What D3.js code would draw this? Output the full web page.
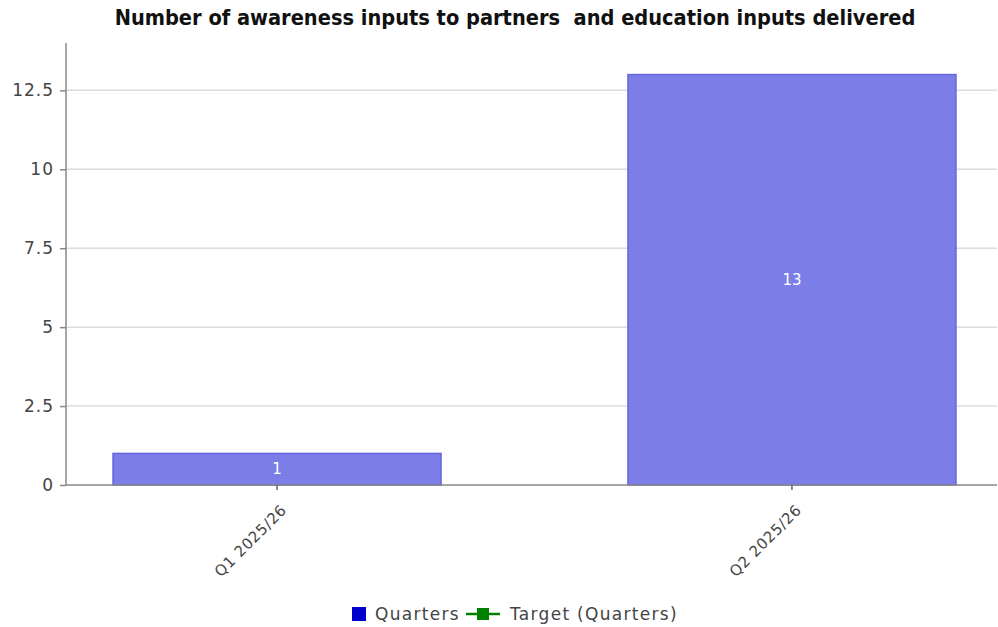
<!DOCTYPE html>
<html>
<head>
<meta charset="utf-8">
<script src="https://cdn.jsdelivr.net/npm/d3@7"></script>
<style>
  html, body { margin: 0; padding: 0; background: #fff; }
  svg { display: block; }
</style>
</head>
<body>
<svg id="chart" width="998" height="627"></svg>
<script>
const titleText = "Number of awareness inputs to partners  and education inputs delivered";
const categories = ["Q1 2025/26", "Q2 2025/26"];
const quarterValues = [1, 13];
const targetValues = [null, null];
const yTicks = [0, 2.5, 5, 7.5, 10, 12.5];
const seriesNames = ["Quarters", "Target (Quarters)"];

const svg = d3.select("#chart");
const W = 998, H = 627;
const m = { left: 66, right: 1, top: 43, bottom: 142 };
const plotR = W - m.right;
const plotB = H - m.bottom;

const x = d3.scaleBand()
  .domain(categories)
  .range([m.left, plotR])
  .paddingInner(0.363)
  .paddingOuter(0.0855)
  .align(0.534);

const y = d3.scaleLinear().domain([0, 14]).range([plotB, m.top]);

// grid lines
svg.append("g")
  .selectAll("line")
  .data(yTicks.filter(d => d > 0))
  .join("line")
  .attr("x1", m.left).attr("x2", plotR)
  .attr("y1", d => y(d)).attr("y2", d => y(d))
  .attr("stroke", "#dcdcdc").attr("stroke-width", 1.5);

// bars
svg.append("g")
  .selectAll("rect")
  .data(categories.map((c, i) => ({ c, v: quarterValues[i] })))
  .join("rect")
  .attr("x", d => x(d.c))
  .attr("y", d => y(d.v))
  .attr("width", x.bandwidth())
  .attr("height", d => y(0) - y(d.v))
  .attr("fill", "#7b7ee6")
  .attr("stroke", "#6466e0")
  .attr("stroke-width", 1.5);

// value labels
svg.append("g")
  .selectAll("text")
  .data(categories.map((c, i) => ({ c, v: quarterValues[i] })))
  .join("text")
  .attr("x", d => x(d.c) + x.bandwidth() / 2)
  .attr("y", d => (y(d.v) + y(0)) / 2)
  .attr("dy", "0.35em")
  .attr("text-anchor", "middle")
  .attr("fill", "#fff")
  .style("font-family", "'DejaVu Sans', sans-serif")
  .style("font-size", "15px")
  .text(d => d.v);

// y axis
const yAxis = svg.append("g")
  .attr("transform", `translate(${m.left},0)`)
  .call(d3.axisLeft(y).tickValues(yTicks).tickSize(6).tickPadding(6)
    .tickFormat(d => String(d)));
yAxis.select(".domain").attr("stroke", "#888").attr("stroke-width", 1.5)
  .attr("d", `M0,${m.top}V${plotB}`);
yAxis.selectAll(".tick line").attr("stroke", "#888").attr("stroke-width", 1.5);
yAxis.selectAll(".tick text")
  .attr("fill", "#444")
  .style("font-family", "'DejaVu Sans', sans-serif")
  .style("font-size", "17px")
  .style("letter-spacing", "1px");

// x axis
const xAxis = svg.append("g")
  .attr("transform", `translate(0,${plotB})`)
  .call(d3.axisBottom(x).tickSize(5).tickSizeOuter(0).tickPadding(8));
xAxis.select(".domain").attr("stroke", "#888").attr("stroke-width", 1.5)
  .attr("d", `M${m.left},0H${plotR}`);
xAxis.selectAll(".tick line").attr("stroke", "#666").attr("stroke-width", 1.5);
xAxis.selectAll(".tick text")
  .attr("fill", "#444")
  .attr("text-anchor", "end")
  .attr("transform", "translate(11,18) rotate(-45)")
  .attr("dy", "0.35em")
  .attr("y", 0)
  .attr("x", -6)
  .style("font-family", "'DejaVu Sans', sans-serif")
  .style("font-size", "15px")
  .style("letter-spacing", "0.6px");

// title
svg.append("text")
  .attr("x", 515)
  .attr("y", 25)
  .attr("text-anchor", "middle")
  .attr("fill", "#111")
  .attr("xml:space", "preserve")
  .style("white-space", "pre")
  .style("font-family", "'DejaVu Sans Condensed', 'DejaVu Sans', sans-serif")
  .style("font-weight", "bold")
  .style("font-size", "21.6px")
  .text(titleText);

// legend
const legendFont = "'DejaVu Sans', sans-serif";
const lg = svg.append("g").attr("transform", "translate(0,614)");
lg.append("rect").attr("x", 352).attr("y", -7).attr("width", 14).attr("height", 14)
  .attr("fill", "#0000cc");
lg.append("text").attr("x", 375).attr("y", 0).attr("dy", "0.35em")
  .attr("fill", "#444")
  .style("font-family", legendFont)
  .style("font-size", "17px")
  .style("letter-spacing", "1.3px")
  .text(seriesNames[0]);
lg.append("line").attr("x1", 466).attr("x2", 500).attr("y1", 0).attr("y2", 0)
  .attr("stroke", "#008000").attr("stroke-width", 2.5);
lg.append("rect").attr("x", 477).attr("y", -6).attr("width", 12).attr("height", 12)
  .attr("fill", "#008000");
lg.append("text").attr("x", 510).attr("y", 0).attr("dy", "0.35em")
  .attr("fill", "#444")
  .style("font-family", legendFont)
  .style("font-size", "17px")
  .style("letter-spacing", "1.3px")
  .text(seriesNames[1]);
</script>
</body>
</html>
